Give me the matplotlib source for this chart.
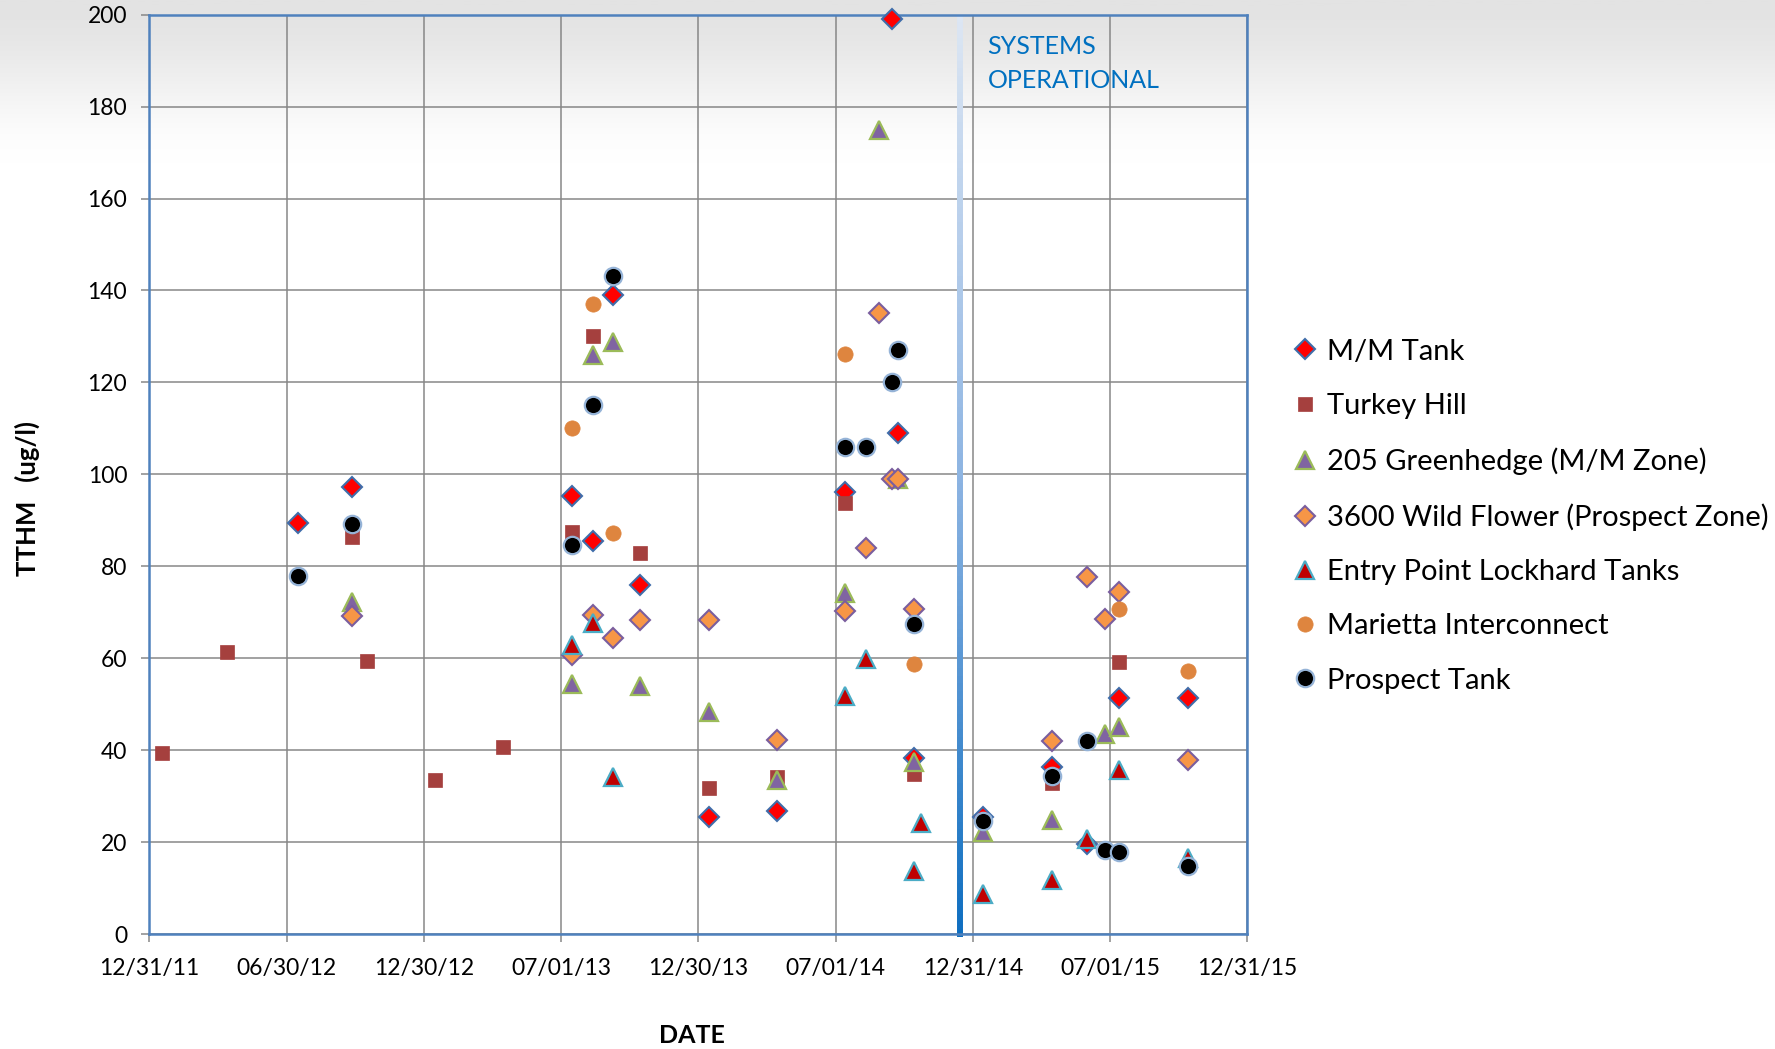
import matplotlib
matplotlib.use("Agg")
import matplotlib.dates as mdates
import matplotlib.pyplot as plt
import numpy as np
from matplotlib.collections import LineCollection
from matplotlib.colors import LinearSegmentedColormap
from matplotlib.lines import Line2D

plt.rcParams["font.family"] = ["Lato", "DejaVu Sans"]

# ---- data (TTHM, ug/l) ----
MM_DATES = ["2012-07-16", "2012-09-26", "2013-07-15", "2013-08-12", "2013-09-08",
            "2013-10-14", "2014-01-13", "2014-04-14", "2014-07-14", "2014-09-14",
            "2014-09-22", "2014-10-13", "2015-01-13", "2015-04-15", "2015-06-01",
            "2015-07-13", "2015-10-13"]
MM_TTHM = [89.5, 97.3, 95.4, 85.5, 139.0, 75.9, 25.5, 26.8, 96.2, 199.0,
           109.1, 38.2, 25.5, 36.4, 19.6, 51.3, 51.3]

TH_DATES = ["2012-01-17", "2012-04-12", "2012-09-26", "2012-10-15", "2013-01-14",
            "2013-04-15", "2013-07-15", "2013-08-12", "2013-10-14", "2014-01-13",
            "2014-04-14", "2014-07-14", "2014-10-13", "2015-04-15", "2015-07-13"]
TH_TTHM = [39.3, 61.4, 86.4, 59.5, 33.5, 40.6, 87.5, 130.1, 82.8, 31.8,
           34.2, 93.7, 34.9, 32.8, 59.2]

GH_DATES = ["2012-09-26", "2013-07-15", "2013-08-12", "2013-09-08", "2013-10-14",
            "2014-01-13", "2014-04-14", "2014-07-14", "2014-08-28", "2014-09-22",
            "2014-10-13", "2015-01-13", "2015-04-15", "2015-06-25", "2015-07-13"]
GH_TTHM = [72.3, 54.5, 126.0, 128.9, 54.0, 48.3, 33.5, 74.1, 175.0, 99.0,
           37.5, 22.2, 24.8, 43.6, 45.1]

WF_DATES = ["2012-09-26", "2013-07-15", "2013-08-12", "2013-09-08", "2013-10-14",
            "2014-01-13", "2014-04-14", "2014-07-14", "2014-08-10", "2014-08-28",
            "2014-09-14", "2014-09-22", "2014-10-13", "2015-04-15", "2015-06-01",
            "2015-06-25", "2015-07-13", "2015-10-13"]
WF_TTHM = [69.2, 60.7, 69.4, 64.3, 68.4, 68.4, 42.2, 70.3, 84.0, 135.0,
           99.0, 99.0, 70.8, 42.0, 77.7, 68.5, 74.4, 37.8]

LK_DATES = ["2013-07-15", "2013-08-12", "2013-09-08", "2014-07-14", "2014-08-10",
            "2014-10-13", "2014-10-22", "2015-01-13", "2015-04-15", "2015-06-01",
            "2015-07-13", "2015-10-13"]
LK_TTHM = [62.9, 67.6, 34.2, 51.8, 59.8, 13.8, 24.1, 8.7, 11.7, 20.6, 35.7, 16.5]

MI_DATES = ["2013-07-15", "2013-08-12", "2013-09-08", "2014-07-14", "2014-10-13",
            "2015-07-13", "2015-10-13"]
MI_TTHM = [110.0, 137.1, 87.2, 126.1, 58.7, 70.8, 57.3]

PT_DATES = ["2012-07-16", "2012-09-26", "2013-07-15", "2013-08-12", "2013-09-08",
            "2014-07-14", "2014-08-10", "2014-09-14", "2014-09-22", "2014-10-13",
            "2015-01-13", "2015-04-15", "2015-06-01", "2015-06-25", "2015-07-13",
            "2015-10-13"]
PT_TTHM = [77.9, 89.2, 84.6, 115.1, 143.2, 106.0, 106.0, 120.1, 127.0, 67.4,
           24.6, 34.4, 42.0, 18.3, 17.8, 14.8]

SERIES_NAMES = ["M/M Tank", "Turkey Hill", "205 Greenhedge (M/M Zone)",
                "3600 Wild Flower (Prospect Zone)", "Entry Point Lockhard Tanks",
                "Marietta Interconnect", "Prospect Tank"]

X_START, X_END = "2011-12-31", "2015-12-31"
X_TICK_LABELS = ["12/31/11", "06/30/12", "12/30/12", "07/01/13", "12/30/13",
                 "07/01/14", "12/31/14", "07/01/15", "12/31/15"]
SWITCH_DATE = "2014-12-13"

# ---- styles ----
STYLES = [
    dict(marker="D", ms=10.0, mfc="#FF0000", mec="#3F6DAA", mew=1.5),
    dict(marker="s", ms=10.0, mfc="#A5403E", mec="#A5403E", mew=0.5),
    dict(marker="^", ms=13.0, mfc="#8064A2", mec="#9BBB59", mew=1.6),
    dict(marker="D", ms=10.0, mfc="#F79646", mec="#7A5E9E", mew=1.5),
    dict(marker="^", ms=13.0, mfc="#C00000", mec="#4BACC6", mew=1.6),
    dict(marker="o", ms=11.0, mfc="#DE853F", mec="#DE853F", mew=0.5),
    dict(marker="o", ms=12.5, mfc="#000000", mec="#95B3D7", mew=1.6),
]
SPINE = "#4F81BD"
GRID = "#878787"


def to_num(dates):
    return mdates.datestr2num(dates)


def main():
    fig = plt.figure(figsize=(17.75, 10.49), dpi=100)

    # slide-style background fading from grey at the top
    bg = fig.add_axes([0, 0, 1, 1], zorder=-5)
    t = np.clip((np.linspace(1, 0, 600) - 0.84) / 0.16, 0, 1)
    grad = (t * t * (3 - 2 * t))[:, None]
    bg_cmap = LinearSegmentedColormap.from_list("bg", ["#FFFFFF", "#E3E3E3"])
    bg.imshow(grad, aspect="auto", cmap=bg_cmap, extent=[0, 1, 0, 1], vmin=0, vmax=1)
    bg.axis("off")

    ax = fig.add_axes([0.0842, 0.1096, 0.6186, 0.8764])
    ax.set_facecolor("none")

    all_dates = [MM_DATES, TH_DATES, GH_DATES, WF_DATES, LK_DATES, MI_DATES, PT_DATES]
    all_vals = [MM_TTHM, TH_TTHM, GH_TTHM, WF_TTHM, LK_TTHM, MI_TTHM, PT_TTHM]
    handles = []
    for i, (name, d, v, st) in enumerate(zip(SERIES_NAMES, all_dates, all_vals, STYLES)):
        ax.plot(to_num(d), v, ls="none", zorder=3 + i, clip_on=False, **st)
        handles.append(Line2D([], [], ls="none", label=name, **st))

    x0, x1 = to_num([X_START, X_END])
    ax.set_xlim(x0, x1)
    ax.set_ylim(0, 200)
    ax.set_xticks(np.linspace(x0, x1, len(X_TICK_LABELS)))
    ax.set_xticklabels(X_TICK_LABELS)
    ax.set_yticks(np.arange(0, 201, 20))

    ax.grid(True, color=GRID, lw=1.1)
    ax.set_axisbelow(True)
    for sp in ax.spines.values():
        sp.set_color(SPINE)
        sp.set_linewidth(1.8)
    ax.tick_params(axis="both", colors=GRID, labelcolor="black", length=6, width=1.1,
                   labelsize=16.5)
    ax.tick_params(axis="y", pad=10)
    ax.tick_params(axis="x", pad=11)

    # system switch-over marker with a vertical colour fade
    xs = to_num(SWITCH_DATE)
    ys = np.linspace(200, -0.6, 121)
    segs = [[(xs, ys[k]), (xs, ys[k + 1])] for k in range(len(ys) - 1)]
    line_cmap = LinearSegmentedColormap.from_list("op", ["#DCE6F3", "#8DB4E2", "#0E6EC0"])
    lc = LineCollection(segs, colors=line_cmap(np.linspace(0, 1, len(segs))),
                        linewidths=4.3, capstyle="butt", zorder=2.5, clip_on=False)
    ax.add_collection(lc)
    ax.text(xs + 37, 195.5, "SYSTEMS\nOPERATIONAL", color="#0070C0", fontsize=18,
            ha="left", va="top", linespacing=1.55)

    fig.text(0.0155, 0.525, "TTHM   (ug/l)", rotation=90, ha="center", va="center",
             fontsize=18.5, fontweight="bold")
    fig.text(0.390, 0.0125, "DATE", ha="center", va="center", fontsize=18,
             fontweight="bold")

    fig.legend(handles=handles, loc="center left", bbox_to_anchor=(0.728, 0.508),
               frameon=False, fontsize=21, handlelength=0.9, handletextpad=0.3,
               labelspacing=0.97, borderpad=0, borderaxespad=0)

    fig.savefig("out.png", dpi=100)


if __name__ == "__main__":
    main()
